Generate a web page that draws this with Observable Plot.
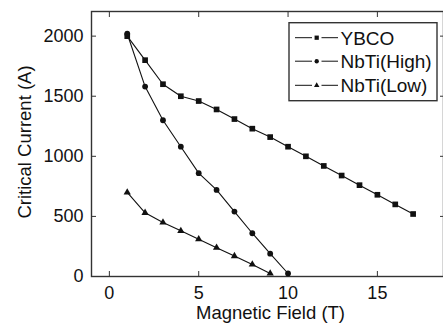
<!DOCTYPE html>
<html>
<head>
<meta charset="utf-8">
<script src="https://cdn.jsdelivr.net/npm/d3@7"></script>
<script src="https://cdn.jsdelivr.net/npm/@observablehq/plot@0.6"></script>
<style>
  html, body { margin: 0; padding: 0; background: #fff; }
  #chart { position: relative; width: 443px; height: 326px; overflow: hidden; }
  svg { font-family: "Liberation Sans", Arial, sans-serif; }
</style>
</head>
<body>
<div id="chart"></div>
<script>
// ---- data ----
const seriesNames = ["YBCO", "NbTi(High)", "NbTi(Low)"];
const ybcoField = [1, 2, 3, 4, 5, 6, 7, 8, 9, 10, 11, 12, 13, 14, 15, 16, 17];
const ybcoCurrent = [2000, 1800, 1600, 1500, 1460, 1390, 1310, 1230, 1160, 1080, 1000, 920, 840, 760, 680, 600, 520];
const nbtiHighField = [1, 2, 3, 4, 5, 6, 7, 8, 9, 10];
const nbtiHighCurrent = [2020, 1580, 1300, 1080, 860, 720, 540, 360, 190, 25];
const nbtiLowField = [1, 2, 3, 4, 5, 6, 7, 8, 9];
const nbtiLowCurrent = [700, 530, 450, 380, 310, 240, 170, 100, 25];
const xTicks = [0, 5, 10, 15];
const yTicks = [0, 500, 1000, 1500, 2000];
const xLabel = "Magnetic Field (T)";
const yLabel = "Critical Current (A)";

const symbols = {"YBCO": "square", "NbTi(High)": "circle", "NbTi(Low)": "triangle"};
const radii = {"YBCO": 3.2, "NbTi(High)": 2.9, "NbTi(Low)": 2.7};

const rows = [
  ...ybcoField.map((x, i) => ({series: "YBCO", x, y: ybcoCurrent[i]})),
  ...nbtiHighField.map((x, i) => ({series: "NbTi(High)", x, y: nbtiHighCurrent[i]})),
  ...nbtiLowField.map((x, i) => ({series: "NbTi(Low)", x, y: nbtiLowCurrent[i]}))
];

const ink = "#111";
const frameInk = "#333";

const plot = Plot.plot({
  width: 443,
  height: 326,
  marginLeft: 91,
  marginRight: 0,
  marginTop: 11,
  marginBottom: 50,
  style: {fontFamily: "'Liberation Sans', Arial, sans-serif", background: "#fff", color: ink},
  x: {domain: [-1, 18.7]},
  y: {domain: [0, 2205]},
  marks: [
    Plot.frame({stroke: frameInk, strokeWidth: 1.4}),
    Plot.axisX({anchor: "bottom", ticks: xTicks, tickSize: -5, tickPadding: 15, tickFormat: d => String(d), fontSize: 18, label: null, stroke: frameInk}),
    Plot.axisX({anchor: "top", ticks: xTicks, tickSize: -5, tickFormat: () => "", label: null, stroke: frameInk}),
    Plot.axisY({anchor: "left", ticks: yTicks, tickSize: -5, tickPadding: 13, tickFormat: d => String(d), fontSize: 18, label: null, stroke: frameInk}),
    Plot.axisY({anchor: "right", ticks: yTicks, tickSize: -4, tickFormat: () => "", label: null, stroke: frameInk}),
    Plot.line(rows, {x: "x", y: "y", z: "series", stroke: ink, strokeWidth: 1.1}),
    ...seriesNames.map(s => Plot.dot(rows.filter(d => d.series === s), {x: "x", y: "y", symbol: symbols[s], r: radii[s], fill: ink, stroke: "none"})),
    Plot.text([xLabel], {frameAnchor: "bottom", text: d => d, dx: 3, dy: 37, fontSize: 18.5, textAnchor: "middle", lineAnchor: "middle", fill: ink}),
    Plot.text([yLabel], {frameAnchor: "left", text: d => d, dx: -66.5, dy: -2, rotate: -90, fontSize: 18.5, textAnchor: "middle", lineAnchor: "middle", fill: ink})
  ]
});

document.getElementById("chart").appendChild(plot);

// ---- legend (drawn into the same svg) ----
const svg = d3.select(plot);
const lg = svg.append("g").attr("class", "legend").attr("text-anchor", "start");
lg.append("rect")
  .attr("x", 289).attr("y", 22.7).attr("width", 148).attr("height", 78)
  .attr("fill", "#fff").attr("stroke", frameInk).attr("stroke-width", 1.4);
const rowY = [37.7, 61.2, 85.3];
const legendFont = 19;
seriesNames.forEach((s, i) => {
  const cy = rowY[i];
  const g = lg.append("g");
  g.append("line").attr("x1", 295).attr("x2", 312).attr("y1", cy).attr("y2", cy).attr("stroke", ink).attr("stroke-width", 1);
  g.append("line").attr("x1", 321.5).attr("x2", 338).attr("y1", cy).attr("y2", cy).attr("stroke", ink).attr("stroke-width", 1);
  const sym = {square: d3.symbolSquare, circle: d3.symbolCircle, triangle: d3.symbolTriangle}[symbols[s]];
  const r = radii[s] * 0.75;
  g.append("path").attr("d", d3.symbol(sym, Math.PI * r * r)()).attr("transform", `translate(316.7,${cy})`).attr("fill", ink);
  g.append("text").attr("x", 340.5).attr("y", cy + 0.358 * legendFont).attr("font-size", legendFont).attr("text-anchor", "start").attr("fill", ink).text(s);
});
</script>
</body>
</html>
